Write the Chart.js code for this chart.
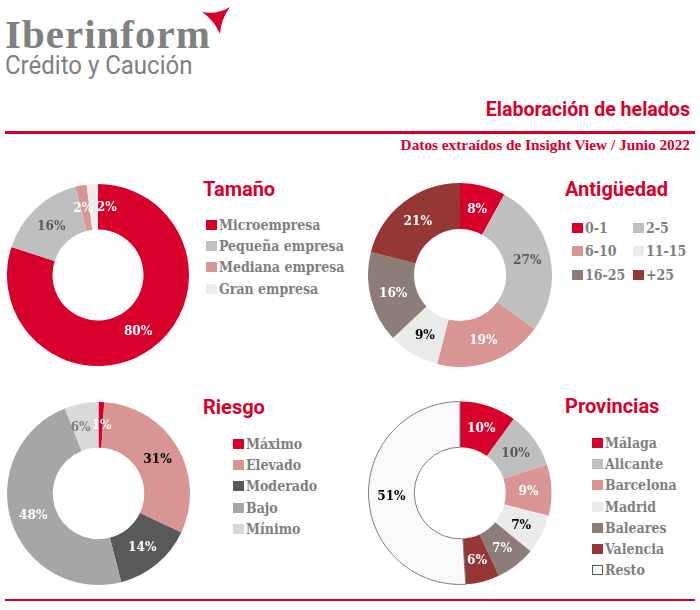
<!DOCTYPE html>
<html lang="es">
<head>
<meta charset="utf-8">
<title>Elaboración de helados</title>
<script src="https://cdn.jsdelivr.net/npm/chart.js@4.4.1/dist/chart.umd.min.js"></script>
<style>
    body { margin: 0; background: #fff; }
    #page { position: relative; width: 700px; height: 610px; overflow: hidden; background: #fff; }
    .abs { position: absolute; }
    .logo1 { left: 5px; top: 14px; font: bold 41px "Liberation Serif", serif; color: #808080; letter-spacing: 1px; line-height: 41px; }
    .logo2 { left: 5px; top: 52px; font: 25px Roboto, sans-serif; color: #808080; line-height: 28px; white-space: nowrap; transform-origin: left top; transform: scaleX(0.96); }
    .titulo { right: 10px; top: 100px; font: bold 19.6px Roboto, sans-serif; color: #d7002b; line-height: 20px; }
    .subtitulo { right: 10px; top: 137px; font: bold 15.3px "Liberation Serif", serif; color: #d7002b; line-height: 16px; }
    .linea { left: 5px; width: 690px; background: #d7002b; }
    .seccion { font: bold 20px Roboto, sans-serif; color: #d7002b; line-height: 20px; }
    .leyenda { font: bold 14px "DejaVu Serif Condensed", "DejaVu Serif", serif; color: #7f7f7f; }
    .fila { display: flex; align-items: center; white-space: nowrap; }
    .cuadro { display: inline-block; width: 11px; height: 10px; margin-right: 2px; box-sizing: border-box; }
    canvas { position: absolute; }
</style>
</head>
<body>
<div id="page">
    <div class="abs logo1">Iberinform</div>
    <svg class="abs" style="left:0;top:0" width="240" height="40">
        <path d="M202,12 Q217,15 230,7 Q221,19 220,34 Q214,20 202,12 Z" fill="#d7002b"/>
    </svg>
    <div class="abs logo2">Crédito y Caución</div>

    <div class="abs titulo">Elaboración de helados</div>
    <div class="abs linea" style="top:131px;height:3px"></div>
    <div class="abs subtitulo">Datos extraídos de Insight View / Junio 2022</div>

    <div class="abs seccion" style="left:203px;top:179px">Tamaño</div>
    <div class="abs seccion" style="left:565px;top:179px">Antigüedad</div>
    <div class="abs seccion" style="left:203px;top:397px">Riesgo</div>
    <div class="abs seccion" style="left:565px;top:396px">Provincias</div>

    <canvas id="chartTamano" width="182" height="182" style="left:7px;top:184px"></canvas>
    <canvas id="chartAntiguedad" width="184" height="184" style="left:368px;top:183px"></canvas>
    <canvas id="chartRiesgo" width="183" height="183" style="left:7px;top:402px"></canvas>
    <canvas id="chartProvincias" width="184" height="184" style="left:368px;top:401px"></canvas>

    <div id="leyTamano" class="abs leyenda" style="left:206px;top:214px"></div>
    <div id="leyAntiguedad" class="abs leyenda" style="left:572px;top:216px;display:grid;grid-template-columns:61px 61px"></div>
    <div id="leyRiesgo" class="abs leyenda" style="left:233px;top:433px"></div>
    <div id="leyProvincias" class="abs leyenda" style="left:592px;top:432px"></div>

    <div class="abs linea" style="top:599px;height:2px"></div>
</div>

<script>
// Datos (Insight View, junio 2022)
const tamanoLabels = ['Microempresa', 'Pequeña empresa', 'Mediana empresa', 'Gran empresa'];
const tamanoValues = [80, 16, 2, 2];

const antiguedadLabels = ['0-1', '2-5', '6-10', '11-15', '16-25', '+25'];
const antiguedadValues = [8, 27, 19, 9, 16, 21];

const riesgoLabels = ['Máximo', 'Elevado', 'Moderado', 'Bajo', 'Mínimo'];
const riesgoValues = [1, 31, 14, 48, 6];

const provinciasLabels = ['Málaga', 'Alicante', 'Barcelona', 'Madrid', 'Baleares', 'Valencia', 'Resto'];
const provinciasValues = [10, 10, 9, 7, 7, 6, 51];

// Colores
const rojo = '#d7002b';
const tamanoColores = [rojo, '#bfbfbf', '#d99594', '#ededed'];
const tamanoTexto = ['#fff', '#595959', '#fff', '#fff'];
const antiguedadColores = [rojo, '#bfbfbf', '#d99594', '#ebebeb', '#8c7d78', '#953735'];
const antiguedadTexto = ['#fff', '#595959', '#fff', '#000', '#fff', '#fff'];
const riesgoColores = [rojo, '#d99594', '#595959', '#a6a6a6', '#d9d9d9'];
const riesgoTexto = ['#fff', '#000', '#fff', '#fff', '#7f7f7f'];
const provinciasColores = [rojo, '#bfbfbf', '#d99594', '#ebebeb', '#8c7d78', '#953735', '#f9f9f9'];
const provinciasTexto = ['#fff', '#595959', '#fff', '#000', '#fff', '#fff', '#000'];

// etiqueta de porcentaje en el centro de cada sector
// (desplazar: corrimiento horizontal para los sectores muy pequeños)
const porcentajes = {
    id: 'porcentajes',
    afterDatasetsDraw(chart, args, opts) {
        const ctx = chart.ctx;
        const meta = chart.getDatasetMeta(0);
        const valores = chart.data.datasets[0].data;
        const desplazar = opts.desplazar || {};
        ctx.save();
        ctx.font = 'bold 13.5px "DejaVu Serif Condensed", "DejaVu Serif", serif';
        ctx.textAlign = 'center';
        ctx.textBaseline = 'middle';
        meta.data.forEach((arc, i) => {
            const p = arc.getCenterPoint();
            ctx.fillStyle = opts.colores[i];
            ctx.fillText(valores[i] + '%', p.x + (desplazar[i] || 0), p.y + 1);
        });
        ctx.restore();
    }
};

function crearDonut(id, labels, values, colores, texto, bordes, desplazar) {
    const ctx = document.getElementById(id).getContext('2d');
    return new Chart(ctx, {
        type: 'doughnut',
        data: {
            labels: labels,
            datasets: [{
                data: values,
                backgroundColor: colores,
                borderColor: '#7f7f7f',
                borderWidth: bordes || 0,
                hoverOffset: 0
            }]
        },
        options: {
            responsive: false,
            animation: false,
            cutout: '50%',
            layout: { padding: 0 },
            events: [],
            plugins: {
                legend: { display: false },
                tooltip: { enabled: false },
                porcentajes: { colores: texto, desplazar: desplazar }
            }
        },
        plugins: [porcentajes]
    });
}

function crearLeyenda(id, labels, colores, alto, bordeUltimo) {
    const cont = document.getElementById(id);
    labels.forEach((lab, i) => {
        const fila = document.createElement('div');
        fila.className = 'fila';
        fila.style.height = alto + 'px';
        const c = document.createElement('span');
        c.className = 'cuadro';
        c.style.background = colores[i];
        if (bordeUltimo && i === labels.length - 1) c.style.border = '1px solid #595959';
        fila.appendChild(c);
        fila.appendChild(document.createTextNode(lab));
        cont.appendChild(fila);
    });
}

crearDonut('chartTamano', tamanoLabels, tamanoValues, tamanoColores, tamanoTexto, 0, { 2: -2, 3: 13 });
crearDonut('chartAntiguedad', antiguedadLabels, antiguedadValues, antiguedadColores, antiguedadTexto);
crearDonut('chartRiesgo', riesgoLabels, riesgoValues, riesgoColores, riesgoTexto, 0, { 0: 1, 4: -5 });
crearDonut('chartProvincias', provinciasLabels, provinciasValues, provinciasColores, provinciasTexto,
    provinciasValues.map((v, i) => i === provinciasValues.length - 1 ? 1 : 0));

crearLeyenda('leyTamano', tamanoLabels, tamanoColores, 21.3);
crearLeyenda('leyAntiguedad', antiguedadLabels, antiguedadColores, 23.5);
crearLeyenda('leyRiesgo', riesgoLabels, riesgoColores, 21.3);
crearLeyenda('leyProvincias', provinciasLabels, provinciasColores, 21.3, true);
</script>
</body>
</html>
